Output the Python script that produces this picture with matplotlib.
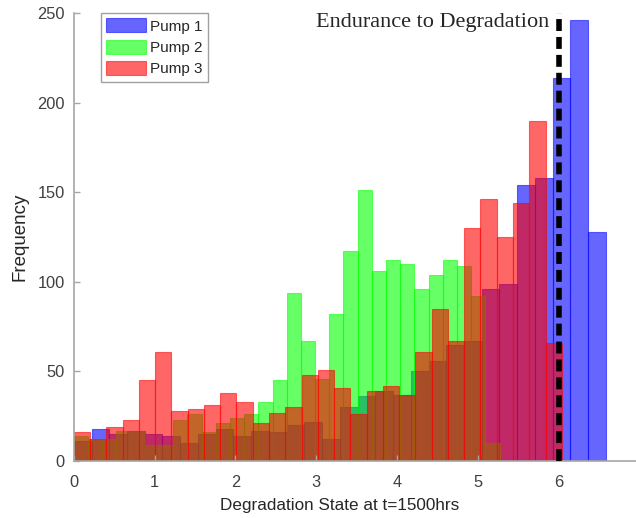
import matplotlib
matplotlib.use("Agg")
import matplotlib.pyplot as plt
import numpy as np

# counts per bin (30 equal bins per pump, starting at 0)
pump1_counts = [11, 18, 15, 17, 15, 14, 10, 15, 18, 14, 17, 16, 20, 22, 12,
                30, 36, 39, 37, 50, 56, 65, 67, 96, 99, 154, 158, 214, 246, 128]
pump2_counts = [14, 12, 12, 17, 17, 9, 9, 23, 26, 16, 21, 24, 26, 33, 45,
                94, 67, 46, 82, 117, 151, 106, 112, 110, 96, 104, 112, 109, 92, 10]
pump3_counts = [16, 12, 19, 23, 45, 61, 28, 29, 31, 38, 33, 21, 27, 30, 48,
                51, 41, 26, 39, 42, 37, 61, 85, 67, 130, 146, 125, 144, 190, 66]

# upper limit of the binned range for each pump
pump1_max = 6.585
pump2_max = 5.27
pump3_max = 6.04

labels = ["Pump 1", "Pump 2", "Pump 3"]
endurance = 6.0
x_ticks = [0, 1, 2, 3, 4, 5, 6, 7]
y_ticks = [0, 50, 100, 150, 200, 250]

plt.rcParams["font.family"] = ["Liberation Sans", "DejaVu Sans"]
plt.rcParams["lines.scale_dashes"] = False

fig = plt.figure(figsize=(6.36, 5.18), dpi=100)
W, H = 636, 518
# axes spans x 0..7, the right part is cut off by the figure edge like in the reference
ax = fig.add_axes([73.8 / W, (H - 461) / H, 565.6 / W, 448 / H])

colors = [(0, 0, 1), (0, 1, 0), (1, 0, 0)]
series = [(pump1_counts, pump1_max), (pump2_counts, pump2_max), (pump3_counts, pump3_max)]
for (counts, top), c, lab in zip(series, colors, labels):
    edges = np.linspace(0, top, len(counts) + 1)
    ax.bar(edges[:-1], counts, width=np.diff(edges), align="edge",
           facecolor=c + (0.6,), edgecolor=c + (0.55,), linewidth=0.8, label=lab)

ax.plot([endurance, endurance], [0, 250], color="black", linewidth=4,
        dashes=(8.6, 4.3), zorder=5)
ax.text(5.885, 242.4, "Endurance to Degradation", ha="right", va="baseline",
        fontsize=16, family=["Liberation Serif", "DejaVu Serif"], color="#262626")

ax.set_xlim(0, 7)
ax.set_ylim(0, 250)
ax.set_xticks(x_ticks)
ax.set_yticks(y_ticks)

for side in ["top", "right"]:
    ax.spines[side].set_visible(False)
for side in ["left", "bottom"]:
    ax.spines[side].set_color("#a6a6a6")
    ax.spines[side].set_linewidth(1.2)
ax.tick_params(direction="in", length=4.3, width=1, color="#a6a6a6",
               labelsize=11.8, labelcolor="#404040")
ax.tick_params(axis="y", pad=6.5)
ax.tick_params(axis="x", pad=10)

ax.set_xlabel("Degradation State at t=1500hrs", fontsize=12.3, color="#262626")
ax.xaxis.label.set_va("baseline")
ax.xaxis.set_label_coords((340 - 73.8) / 565.6, (461 - 510) / 448)
ax.set_ylabel("Frequency", fontsize=13.5, color="#262626")
ax.yaxis.label.set_va("center")
ax.yaxis.set_label_coords((20 - 73.8) / 565.6, 0.5)

leg = ax.legend(loc="upper left", bbox_to_anchor=(101 / W, 1 - 13 / H),
                bbox_transform=fig.transFigure, borderaxespad=0, fontsize=11,
                handlelength=2.6, handleheight=1.03, handletextpad=0.25,
                labelspacing=0.4, borderpad=0.35, fancybox=False,
                framealpha=1, edgecolor="#a0a0a0")
leg.get_frame().set_linewidth(1.0)
for t in leg.get_texts():
    t.set_color("#262626")

fig.savefig("out.png", dpi=100)
